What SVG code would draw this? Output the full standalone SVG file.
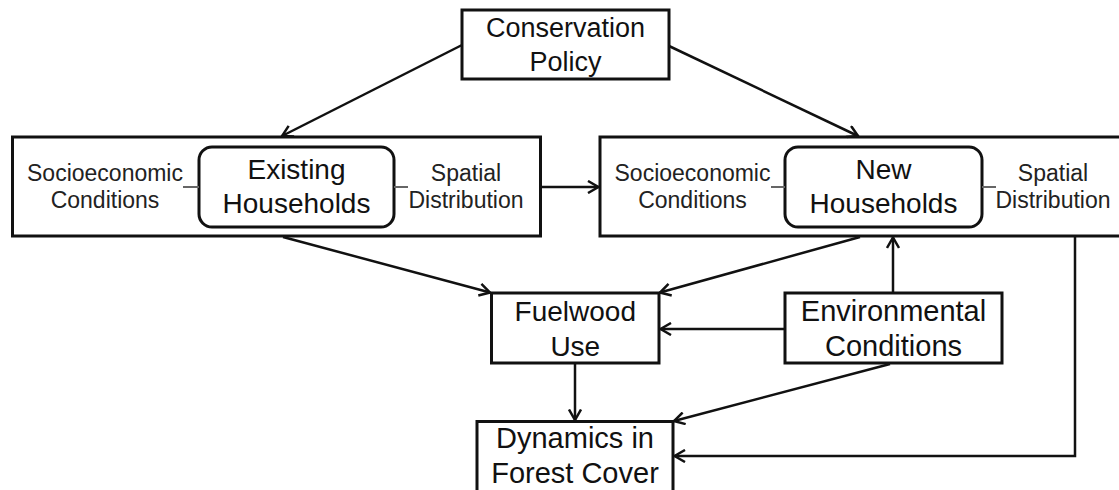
<svg xmlns="http://www.w3.org/2000/svg" width="1119" height="490" viewBox="0 0 1119 490">
  <style>
    .box { fill: #fff; stroke: #111; stroke-width: 3; }
    .rbox { fill: #fff; stroke: #111; stroke-width: 3; }
    .conn { fill: none; stroke: #111; stroke-width: 2.5; }
    .tick { stroke: #666; stroke-width: 2; }
    .main { font-family: "Liberation Sans", Arial, sans-serif; font-size: 28px; fill: #111; text-anchor: middle; }
    .side { font-family: "Liberation Sans", Arial, sans-serif; font-size: 23px; fill: #222; text-anchor: middle; }
  </style>
  <defs>
    <marker id="arr" markerUnits="userSpaceOnUse" viewBox="0 0 13 14" refX="11.5" refY="7" markerWidth="13" markerHeight="14" orient="auto">
      <path d="M1,1 L11.5,7 L1,13" fill="none" stroke="#111" stroke-width="2.5"/>
    </marker>
  </defs>
  <rect x="0" y="0" width="1119" height="490" fill="#fff"/>

  <g id="conservation-policy">
    <rect class="box" x="462" y="10" width="207" height="69"/>
    <text class="main" x="565.5" y="37" style="font-size:27px">Conservation</text>
    <text class="main" x="565.5" y="71" style="font-size:27px">Policy</text>
  </g>

  <g id="existing-households">
    <rect class="box" x="12.5" y="137" width="528" height="99"/>
    <rect class="rbox" x="199" y="147" width="195" height="80" rx="13"/>
    <text class="main" x="296.5" y="179">Existing</text>
    <text class="main" x="296.5" y="213">Households</text>
    <text class="side" x="105" y="181">Socioeconomic</text>
    <text class="side" x="105" y="208">Conditions</text>
    <text class="side" x="466" y="181">Spatial</text>
    <text class="side" x="466" y="208">Distribution</text>
    <line class="tick" x1="183" y1="187" x2="199" y2="187"/>
    <line class="tick" x1="394" y1="187" x2="408" y2="187"/>
  </g>

  <g id="new-households">
    <rect class="box" x="600" y="137" width="528" height="99"/>
    <rect class="rbox" x="785" y="147" width="197" height="80" rx="13"/>
    <text class="main" x="883.5" y="179">New</text>
    <text class="main" x="883.5" y="213">Households</text>
    <text class="side" x="692.5" y="181">Socioeconomic</text>
    <text class="side" x="692.5" y="208">Conditions</text>
    <text class="side" x="1053" y="181">Spatial</text>
    <text class="side" x="1053" y="208">Distribution</text>
    <line class="tick" x1="771" y1="187" x2="785" y2="187"/>
    <line class="tick" x1="982" y1="187" x2="996" y2="187"/>
  </g>

  <g id="fuelwood-use">
    <rect class="box" x="491.5" y="293" width="167.5" height="70"/>
    <text class="main" x="575.3" y="321">Fuelwood</text>
    <text class="main" x="575.3" y="356">Use</text>
  </g>

  <g id="environmental-conditions">
    <rect class="box" x="785" y="293" width="217" height="70"/>
    <text class="main" x="893.5" y="321" style="font-size:29px">Environmental</text>
    <text class="main" x="893.5" y="356" style="font-size:29px">Conditions</text>
  </g>

  <g id="dynamics-forest-cover">
    <rect class="box" x="477" y="421.5" width="196" height="80"/>
    <text class="main" x="575" y="448" style="font-size:29px">Dynamics in</text>
    <text class="main" x="575" y="483" style="font-size:29px">Forest Cover</text>
  </g>

  <g id="connectors">
    <line class="conn" x1="462" y1="45" x2="282" y2="136" marker-end="url(#arr)"/>
    <line class="conn" x1="669" y1="46" x2="858" y2="136" marker-end="url(#arr)"/>
    <line class="conn" x1="541" y1="187" x2="598.5" y2="187" marker-end="url(#arr)"/>
    <line class="conn" x1="283" y1="237" x2="490" y2="292.5" marker-end="url(#arr)"/>
    <line class="conn" x1="860" y1="237" x2="660" y2="292.5" marker-end="url(#arr)"/>
    <line class="conn" x1="893" y1="292" x2="893" y2="237.5" marker-end="url(#arr)"/>
    <line class="conn" x1="784" y1="329" x2="660.5" y2="329" marker-end="url(#arr)"/>
    <line class="conn" x1="575" y1="364" x2="575" y2="420" marker-end="url(#arr)"/>
    <line class="conn" x1="890" y1="364" x2="674" y2="421" marker-end="url(#arr)"/>
    <polyline class="conn" points="1075,237 1075,456 674.5,456" marker-end="url(#arr)"/>
  </g>
</svg>
